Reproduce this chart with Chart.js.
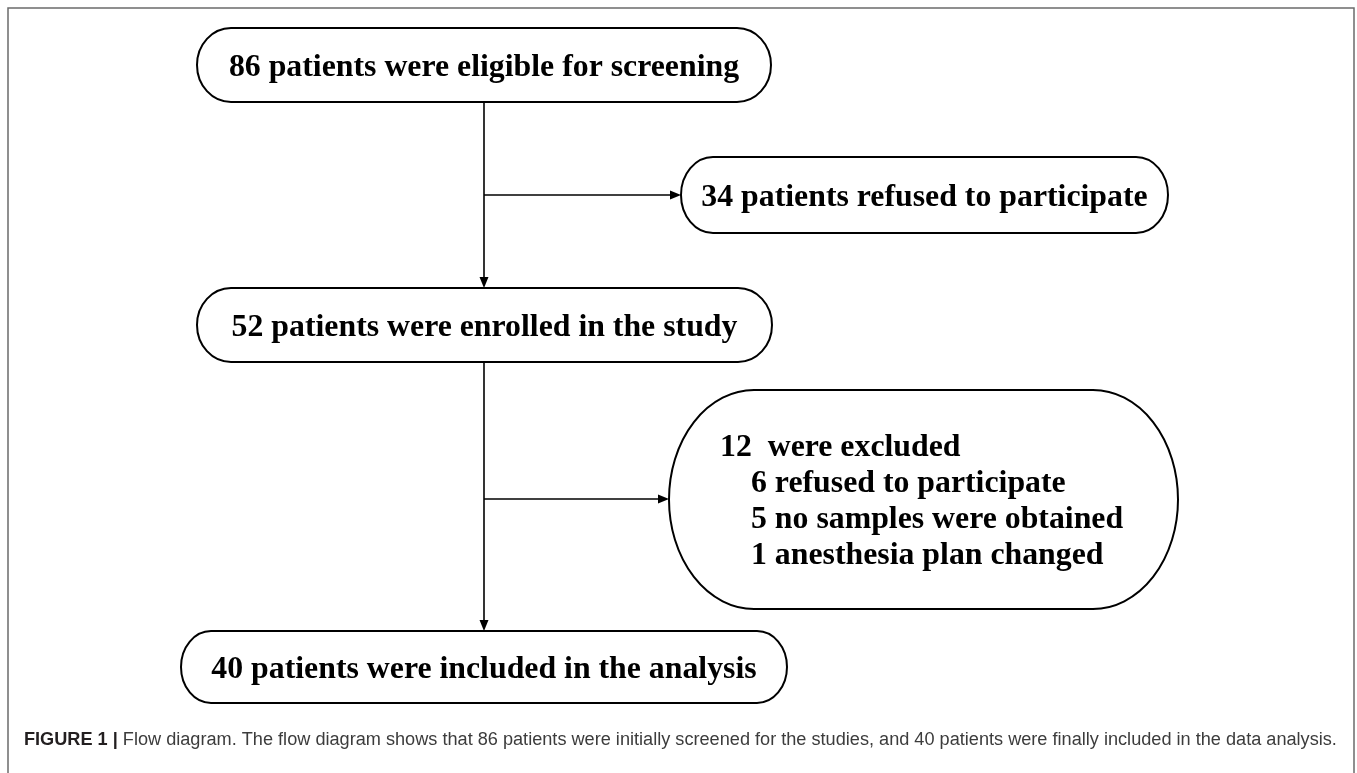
<!DOCTYPE html>
<html>
<head>
<meta charset="utf-8">
<script src="https://cdn.jsdelivr.net/npm/chart.js@4.4.1/dist/chart.umd.min.js"></script>
<style>
  html, body { margin: 0; padding: 0; background: #fff; overflow: hidden; }
  #flow { display: block; }
</style>
</head>
<body>
<canvas id="flow" width="1357" height="773"></canvas>
<script>
// Texto del diagrama
const mainSteps = [
  "86 patients were eligible for screening",
  "52 patients were enrolled in the study",
  "40 patients were included in the analysis"
];
const refusedStep = "34 patients refused to participate";
const excludedLines = [
  "12  were excluded",
  "6 refused to participate",
  "5 no samples were obtained",
  "1 anesthesia plan changed"
];
const captionBold = "FIGURE 1 |";
const captionRest = " Flow diagram. The flow diagram shows that 86 patients were initially screened for the studies, and 40 patients were finally included in the data analysis.";

// Geometría en coordenadas de página (eje x 0-1357, eje y 0-773)
const layout = {
  spineX: 484,
  eligible: { x0: 197, x1: 771, y0: 28, y1: 102, rx: 34 },
  refused: { x0: 681, x1: 1168, y0: 157, y1: 233, rx: 32 },
  enrolled: { x0: 197, x1: 772, y0: 288, y1: 362, rx: 34 },
  excluded: { x0: 669, x1: 1178, y0: 390, y1: 609, rx: 85 },
  included: { x0: 181, x1: 787, y0: 631, y1: 703, rx: 30 },
  refusedY: 195,
  excludedY: 499,
  excludedText: { x: 720, indent: 751, y: 456, step: 36 },
  caption: { x: 24, y: 745 }
};

const SERIF = "bold 31.8px 'Liberation Serif', 'Times New Roman', serif";

const flowPlugin = {
  id: "flowDiagram",
  afterDraw(chart) {
    const c = chart.ctx;
    const sx = chart.scales.x, sy = chart.scales.y;
    const X = v => sx.getPixelForValue(v);
    const Y = v => sy.getPixelForValue(v);

    // Marco exterior
    c.save();
    c.strokeStyle = "#6b6b6b";
    c.lineWidth = 1.5;
    c.beginPath();
    c.moveTo(X(8), Y(773));
    c.lineTo(X(8), Y(8));
    c.lineTo(X(1354), Y(8));
    c.lineTo(X(1354), Y(773));
    c.stroke();
    c.restore();

    function stadium(b) {
      const x0 = X(b.x0), x1 = X(b.x1), y0 = Y(b.y0), y1 = Y(b.y1);
      const ry = (y1 - y0) / 2, cy = (y0 + y1) / 2, rx = b.rx;
      c.beginPath();
      c.moveTo(x0 + rx, y0);
      c.lineTo(x1 - rx, y0);
      c.ellipse(x1 - rx, cy, rx, ry, 0, -Math.PI / 2, Math.PI / 2);
      c.lineTo(x0 + rx, y1);
      c.ellipse(x0 + rx, cy, rx, ry, 0, Math.PI / 2, Math.PI * 1.5);
      c.closePath();
      c.stroke();
    }

    function arrow(xa, ya, xb, yb) {
      const x1 = X(xa), y1 = Y(ya), x2 = X(xb), y2 = Y(yb);
      const ang = Math.atan2(y2 - y1, x2 - x1);
      const len = 11, half = 4.5;
      c.beginPath();
      c.moveTo(x1, y1);
      c.lineTo(x2 - Math.cos(ang) * len, y2 - Math.sin(ang) * len);
      c.stroke();
      c.beginPath();
      c.moveTo(x2, y2);
      c.lineTo(x2 - Math.cos(ang) * len - Math.sin(ang) * half, y2 - Math.sin(ang) * len + Math.cos(ang) * half);
      c.lineTo(x2 - Math.cos(ang) * len + Math.sin(ang) * half, y2 - Math.sin(ang) * len - Math.cos(ang) * half);
      c.closePath();
      c.fill();
    }

    function centred(text, b) {
      c.textAlign = "center";
      c.textBaseline = "alphabetic";
      c.fillText(text, X((b.x0 + b.x1) / 2), Y((b.y0 + b.y1) / 2) + 11);
    }

    c.save();
    c.strokeStyle = "#000";
    c.fillStyle = "#000";
    c.lineWidth = 2;
    [layout.eligible, layout.refused, layout.enrolled, layout.excluded, layout.included].forEach(stadium);

    // Conectores
    c.lineWidth = 1.6;
    const s = layout.spineX;
    arrow(s, layout.eligible.y1, s, layout.enrolled.y0);
    arrow(s, layout.enrolled.y1, s, layout.included.y0);
    arrow(s, layout.refusedY, layout.refused.x0, layout.refusedY);
    arrow(s, layout.excludedY, layout.excluded.x0, layout.excludedY);

    // Textos de las cajas
    c.font = SERIF;
    centred(mainSteps[0], layout.eligible);
    centred(refusedStep, layout.refused);
    centred(mainSteps[1], layout.enrolled);
    centred(mainSteps[2], layout.included);

    const t = layout.excludedText;
    c.textAlign = "left";
    excludedLines.forEach((line, i) => {
      c.fillText(line, X(i === 0 ? t.x : t.indent), Y(t.y + i * t.step));
    });

    // Pie de figura
    c.textAlign = "left";
    c.font = "bold 18.15px 'Liberation Sans', Arial, sans-serif";
    c.fillStyle = "#231f20";
    c.fillText(captionBold, X(layout.caption.x), Y(layout.caption.y));
    const w = c.measureText(captionBold).width;
    c.font = "18.15px 'Liberation Sans', Arial, sans-serif";
    c.fillStyle = "#3c3c3c";
    c.fillText(captionRest, X(layout.caption.x) + w, Y(layout.caption.y));
    c.restore();
  }
};

new Chart(document.getElementById("flow"), {
  type: "scatter",
  data: { datasets: [] },
  options: {
    responsive: false,
    animation: false,
    layout: { padding: 0 },
    plugins: { legend: { display: false }, tooltip: { enabled: false } },
    scales: {
      x: { type: "linear", min: 0, max: 1357, display: false },
      y: { type: "linear", min: 0, max: 773, reverse: true, display: false }
    }
  },
  plugins: [flowPlugin]
});
</script>
</body>
</html>
